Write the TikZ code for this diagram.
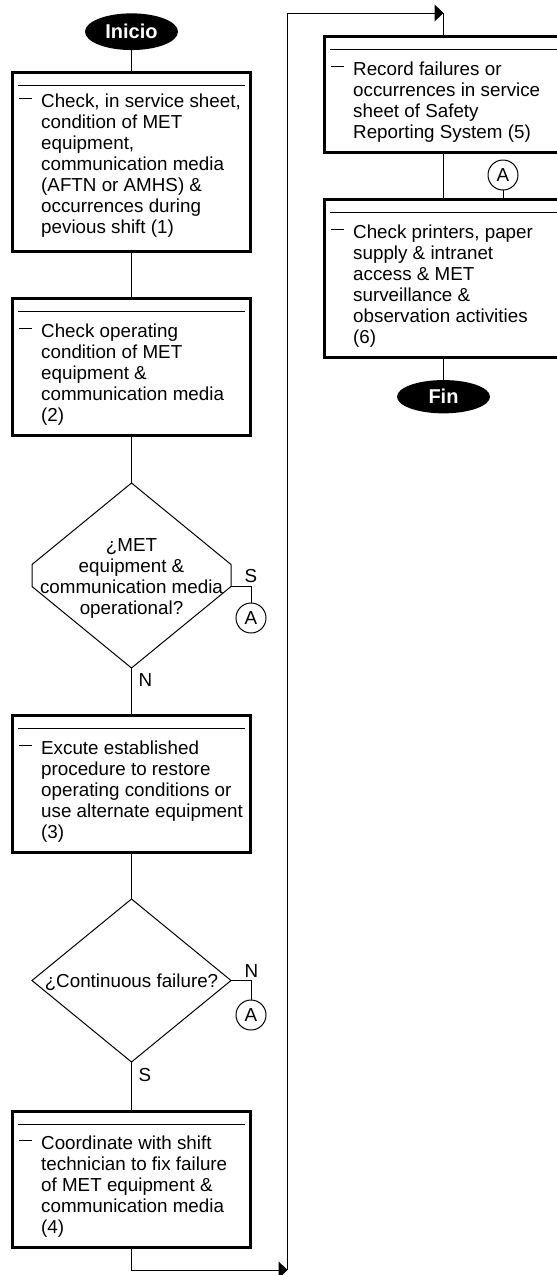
\documentclass[tikz,border=0pt]{standalone}
\usepackage{fontspec}
\setmainfont{Liberation Sans}
\usetikzlibrary{shapes.geometric,arrows.meta,calc}
\tikzset{
  lbl/.style={font=\fontsize{18.8}{21}\selectfont, inner sep=0pt},
  txt/.style={lbl, anchor=base west},
  procbox/.style={draw, line width=3pt, rectangle, minimum width=238pt, inner sep=0pt, outer sep=0pt, anchor=north},
  conn/.style={line width=1pt},
  innerline/.style={line width=1pt},
  terminal/.style={ellipse, fill=black, text=white, font=\fontsize{20}{24}\selectfont\bfseries, inner sep=0pt, outer sep=0pt, minimum width=93pt, text height=14.3pt, text depth=0pt},
  conncirc/.style={circle, draw, line width=1pt, minimum size=30pt, inner sep=0pt, outer sep=0pt, font=\fontsize{18.8}{21}\selectfont, text height=13.5pt, text depth=0pt},
  decision/.style={line width=1pt},
  arr/.style={-{Triangle[length=9pt,width=17pt]}}
}
\newcommand\stepdeco[3]{%
  \draw[innerline] ($(#1.north west)+(5.5,13)$) -- ($(#1.north east)+(-5.5,13)$);
  \draw[innerline] ($(#1.north west)+(6,#2-9)$) -- ++(13,0);
  \node[txt] (#1t) at ($(#1.north west)+(28.5,#2)$) {\parbox[t]{300pt}{#3}};
}
\begin{document}
\begin{tikzpicture}[x=1pt,y=-1pt]
\useasboundingbox (0,0) rectangle (557,1275);

% terminals
\node[terminal, minimum height=36.7pt] (start) at (131.5,31.7) {Inicio};
\node[terminal, minimum height=33.3pt] (end) at (443.5,396.7) {Fin};

% process boxes
\node[procbox, minimum height=178.5pt] (b1) at (131.5,72.5) {};
\node[procbox, minimum height=136.5pt] (b2) at (131.5,298.5) {};
\node[procbox, minimum height=136.5pt] (b3) at (131.5,715.5) {};
\node[procbox, minimum height=136.5pt] (b4) at (131.5,1111) {};
\node[procbox, minimum height=115.5pt] (b5) at (443.5,36.5) {};
\node[procbox, minimum height=157.5pt] (b6) at (443.5,199.5) {};

\stepdeco{b1}{34.5}{Check, in service sheet,\\condition of MET\\equipment,\\communication media\\(AFTN or AMHS) \&\\occurrences during\\pevious shift (1)}
\stepdeco{b2}{38.5}{Check operating\\condition of MET\\equipment \&\\communication media\\(2)}
\stepdeco{b3}{38.5}{Excute established\\procedure to restore\\operating conditions or\\use alternate equipment\\(3)}
\stepdeco{b4}{38.5}{Coordinate with shift\\technician to fix failure\\of MET equipment \&\\communication media\\(4)}
\stepdeco{b5}{38.5}{Record failures or\\occurrences in service\\sheet of Safety\\Reporting System (5)}
\stepdeco{b6}{38.5}{Check printers, paper\\supply \& intranet\\access \& MET\\surveillance \&\\observation activities\\(6)}

% decision 1
\coordinate (d1n) at (131.5,483);
\coordinate (d1ne) at (231,564.5);
\coordinate (d1se) at (231,586.5);
\coordinate (d1s) at (131.5,668);
\coordinate (d1sw) at (32,586.5);
\coordinate (d1nw) at (32,564.5);
\draw[decision] (d1n) -- (d1ne) -- (d1se) -- (d1s) -- (d1sw) -- (d1nw) -- cycle;
\node[lbl, anchor=base] (d1t) at (131.5,551.5) {\parbox[t]{250pt}{\centering ¿MET\\equipment \&\\communication media\\operational?}};

% decision 2
\coordinate (d2n) at (131.5,899);
\coordinate (d2e) at (231,980.5);
\coordinate (d2s) at (131.5,1062);
\coordinate (d2w) at (32,980.5);
\draw[decision] (d2n) -- (d2e) -- (d2s) -- (d2w) -- cycle;
\node[lbl, anchor=base] (d2t) at (131.5,987) {¿Continuous failure?};

% connector circles
\node[conncirc] (a1) at (251,618) {A};
\node[conncirc] (a2) at (251,1015) {A};
\node[conncirc] (a3) at (503,175) {A};

% labels
\node[lbl, anchor=base] (s1) at (251,582) {S};
\node[lbl, anchor=base] (n1) at (145.5,686) {N};
\node[lbl, anchor=base] (n2) at (251.5,977) {N};
\node[lbl, anchor=base] (s2) at (145,1081) {S};

% connectors
\draw[conn] (start.south) -- (b1.north);
\draw[conn] (b1.south) -- (b2.north);
\draw[conn] (b2.south) -- (d1n);
\draw[conn] (d1s) -- (b3.north);
\draw[conn] (b3.south) -- (d2n);
\draw[conn] (d2s) -- (b4.north);
\draw[conn] (d1se) -| (a1.north);
\draw[conn] (d2e) -| (a2.north);

\coordinate (cb) at (287.5,1270);
\coordinate (cl) at (287.5,13);
\coordinate (ct) at (443.5,13);
\draw[conn, arr] (b4.south) |- (cb);
\draw[conn, arr] (cb) -- (cl) -- (ct);
\draw[conn] (ct) -- (b5.north);
\draw[conn] (b5.south) -- (b6.north);
\draw[conn] (a3.south) -- (a3.south |- b6.north);
\draw[conn] (b6.south) -- (end.north);
\end{tikzpicture}
\end{document}
